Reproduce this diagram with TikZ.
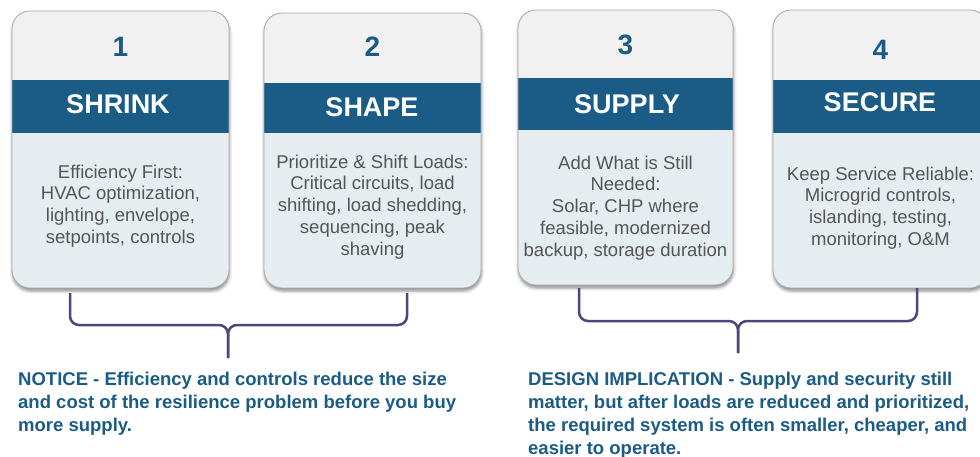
\documentclass[tikz,border=0pt]{standalone}
\usepackage{fontspec}
\setmainfont{Liberation Sans}
\usetikzlibrary{shadows.blur}

\definecolor{bandblue}{HTML}{1B5C86}
\definecolor{topgray}{HTML}{F1F1F1}
\definecolor{bodyblue}{HTML}{E6EDF0}
\definecolor{bodytext}{HTML}{555555}
\definecolor{bracecol}{HTML}{4C477B}
\definecolor{edgegray}{HTML}{A8A8A8}

\tikzset{
  card/.style={draw=edgegray, line width=0.8pt, rounded corners=18pt},
  stepnum/.style={font=\fontsize{28}{30}\selectfont\bfseries, text=bandblue},
  steptitle/.style={font=\fontsize{27}{30}\selectfont\bfseries, text=white},
  stepbody/.style={font=\fontsize{18.5}{21.8}\selectfont, text=bodytext, align=center},
  note/.style={font=\fontsize{18.5}{22.8}\selectfont\bfseries, text=bandblue,
    align=left, anchor=north west, inner sep=0pt},
  brace/.style={draw=bracecol, line width=2.5pt, rounded corners=9pt}
}

\begin{document}
\begin{tikzpicture}[x=1pt, y=-1pt]
  \useasboundingbox (0,0) rectangle (980,456);

  % the four cards: body, top, band, edge
  \foreach \xa/\xb/\ya/\yb/\ba/\bb in {12/229/11/288/80/133, 264/481/13/288/83/133,
      518/733/10/285/78/130, 773/988/10/288/80/133} {
    \fill[bodyblue, rounded corners=18pt,
      blur shadow={shadow xshift=0.5pt, shadow yshift=-3pt, shadow blur radius=3pt, shadow opacity=45}]
      (\xa,\ya) rectangle (\xb,\yb);
    \fill[topgray, rounded corners=18pt] (\xa,\ya) rectangle (\xb,\bb);
    \fill[bandblue] (\xa,\ba) rectangle (\xb,\bb);
    \draw[card] (\xa,\ya) rectangle (\xb,\yb);
  }

  % numbers and titles
  \node[stepnum] (num1) at (120.5,47) {1};
  \node[stepnum] (num2) at (372.5,47) {2};
  \node[stepnum] (num3) at (625.5,45) {3};
  \node[stepnum] (num4) at (880.5,50) {4};
  \node[steptitle] (shrink) at (118,104) {SHRINK};
  \node[steptitle] (shape) at (372,107) {SHAPE};
  \node[steptitle] (supply) at (627,104) {SUPPLY};
  \node[steptitle] (secure) at (880,102) {SECURE};

  \node[stepbody] (body1) at (120.5,206) {Efficiency First:\\HVAC optimization,\\lighting, envelope,\\setpoints, controls};
  \node[stepbody] (body2) at (372.5,207) {Prioritize \& Shift Loads:\\Critical circuits, load\\shifting, load shedding,\\sequencing, peak\\shaving};
  \node[stepbody] (body3) at (625.5,208) {Add What is Still\\Needed:\\Solar, CHP where\\feasible, modernized\\backup, storage duration};
  \node[stepbody] (body4) at (880.5,208) {Keep Service Reliable:\\Microgrid controls,\\islanding, testing,\\monitoring, O\&M};

  % braces
  \coordinate (b1a) at (70,293);
  \coordinate (b1b) at (407,293);
  \coordinate (b1mid) at (228,325);
  \coordinate (b1tip) at (228,358);
  \draw[brace] (b1a) |- (b1mid) -- (b1tip);
  \draw[brace] (b1b) |- (b1mid) -- (b1tip);

  \coordinate (b2a) at (579,288);
  \coordinate (b2b) at (917,288);
  \coordinate (b2mid) at (738,321);
  \coordinate (b2tip) at (738,353);
  \draw[brace] (b2a) |- (b2mid) -- (b2tip);
  \draw[brace] (b2b) |- (b2mid) -- (b2tip);

  % notes under the braces
  \node[note] (notice) at (18,372) {NOTICE - Efficiency and controls reduce the size\\and cost of the resilience problem before you buy\\more supply.};
  \node[note] (implication) at (528,372) {DESIGN IMPLICATION - Supply and security still\\matter, but after loads are reduced and prioritized,\\the required system is often smaller, cheaper, and\\easier to operate.};
\end{tikzpicture}
\end{document}
